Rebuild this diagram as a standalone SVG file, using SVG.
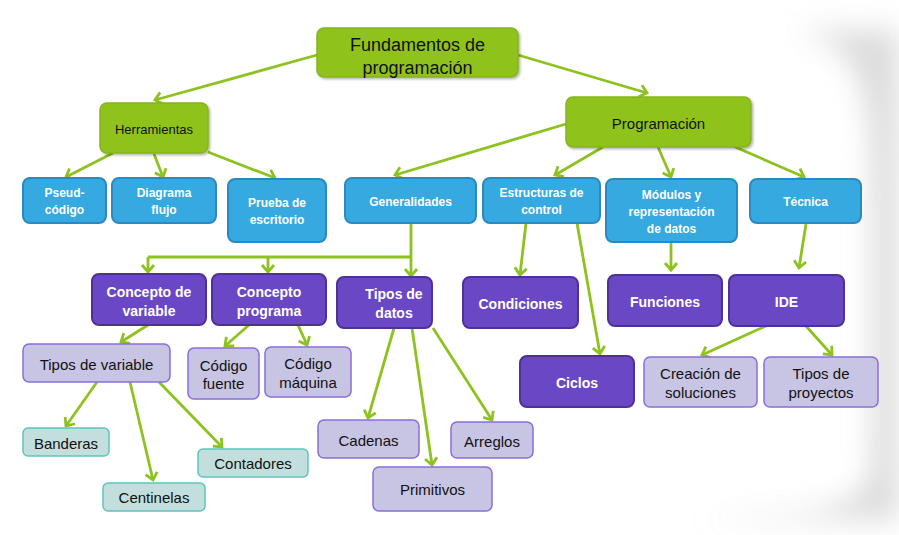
<svg xmlns="http://www.w3.org/2000/svg" width="899" height="535" viewBox="0 0 899 535">
<defs>
<filter id="blur" x="-50%" y="-50%" width="200%" height="200%"><feGaussianBlur stdDeviation="14"/></filter>
<filter id="sh" x="-10%" y="-10%" width="130%" height="140%"><feDropShadow dx="1.5" dy="1.5" stdDeviation="1.2" flood-color="#000" flood-opacity="0.3"/></filter>
<marker id="ar" markerUnits="userSpaceOnUse" markerWidth="20" markerHeight="20" viewBox="-10 -10 20 20" refX="0" refY="0" orient="auto">
<path d="M-7,-6 L0,0 L-7,6" fill="none" stroke="#8DC21F" stroke-width="2.8" stroke-linejoin="miter"/>
</marker>
<style>
text{font-family:"Liberation Sans",Arial,sans-serif;text-anchor:middle}
.g rect{fill:#8FC31F;stroke:#86B41E;stroke-width:1.5;filter:url(#sh)}
.g text{fill:#111}
.b rect{fill:#36A9E1;stroke:#2B88C0;stroke-width:2}
.b text{fill:#fff;font-weight:bold;font-size:12px}
.p rect{fill:#6A47C4;stroke:#4E3196;stroke-width:2}
.p text{fill:#fff;font-weight:bold;font-size:14px}
.l rect{fill:#C8C4E4;stroke:#8A6ED8;stroke-width:1.5}
.l text{fill:#111;font-size:15px}
.t rect{fill:#C3DFDD;stroke:#5CC6BC;stroke-width:1.5}
.t text{fill:#111;font-size:15px}
#connectors path{fill:none;stroke:#8DC21F;stroke-width:2.8}
#connectors .a{marker-end:url(#ar)}
</style>
</defs>
<rect width="899" height="535" fill="#fff"/>
<path d="M790 30 C860 40 872 90 872 200 L872 450 C872 505 840 516 700 518 L730 520 L899 520 L899 30 Z" fill="#d0d0d0" filter="url(#blur)" opacity="0.75"/>
<g id="connectors">
<path class="a" d="M317 55 L155 100"/>
<path class="a" d="M518 55 L647 93"/>
<path class="a" d="M113 153 L66 177"/>
<path class="a" d="M154 154 L163 177"/>
<path class="a" d="M208 152 L275 178"/>
<path class="a" d="M566 124 L395 175"/>
<path class="a" d="M603 147 L555 175"/>
<path class="a" d="M658 147 L671 177"/>
<path class="a" d="M733 146 L804 177"/>
<path d="M411 223 L411 257 M148 257 L411 257"/>
<path class="a" d="M148 257 L148 272"/>
<path class="a" d="M268 257 L268 272"/>
<path class="a" d="M411 257 L411 276"/>
<path class="a" d="M526 223 L520 275"/>
<path class="a" d="M577 223 L600 354"/>
<path class="a" d="M671 242 L671 270"/>
<path class="a" d="M806 224 L799 268"/>
<path class="a" d="M148 325 L121 342"/>
<path class="a" d="M249 325 L225 346"/>
<path class="a" d="M298 325 L307 345"/>
<path class="a" d="M97 382 L66 426"/>
<path class="a" d="M130 382 L153 480"/>
<path class="a" d="M159 382 L222 447"/>
<path class="a" d="M394 328 L368 418"/>
<path class="a" d="M412 328 L432 465"/>
<path class="a" d="M433 328 L492 420"/>
<path class="a" d="M768 325 L702 355"/>
<path class="a" d="M805 325 L832 355"/>
</g>
<g id="n-fundamentos" class="g"><rect x="317" y="28" width="201" height="49" rx="7"/><text x="417.5" y="51" font-size="18">Fundamentos de</text><text x="417.5" y="74" font-size="18">programación</text></g>
<g id="n-herramientas" class="g"><rect x="100" y="103" width="108" height="50" rx="7"/><text x="154" y="134" font-size="13">Herramientas</text></g>
<g id="n-programacion" class="g"><rect x="566" y="97" width="185" height="50" rx="7"/><text x="658.5" y="129" font-size="15">Programación</text></g>
<g id="n-pseud" class="b"><rect x="23" y="178" width="83" height="45" rx="7"/><text x="64.5" y="197">Pseud-</text><text x="64.5" y="214">código</text></g>
<g id="n-diagrama" class="b"><rect x="112" y="178" width="104" height="45" rx="7"/><text x="164" y="197">Diagrama</text><text x="164" y="214">flujo</text></g>
<g id="n-prueba" class="b"><rect x="228" y="179" width="98" height="63" rx="7"/><text x="277" y="207">Prueba de</text><text x="277" y="224">escritorio</text></g>
<g id="n-generalidades" class="b"><rect x="345" y="178" width="131" height="45" rx="7"/><text x="410.5" y="206">Generalidades</text></g>
<g id="n-estructuras" class="b"><rect x="483" y="178" width="117" height="45" rx="7"/><text x="541.5" y="197">Estructuras de</text><text x="541.5" y="214">control</text></g>
<g id="n-modulos" class="b"><rect x="606" y="179" width="131" height="63" rx="7"/><text x="671.5" y="199">Módulos y</text><text x="671.5" y="216">representación</text><text x="671.5" y="233">de datos</text></g>
<g id="n-tecnica" class="b"><rect x="750" y="179" width="111" height="44" rx="7"/><text x="805.5" y="206">Técnica</text></g>
<g id="n-concepto-variable" class="p"><rect x="92" y="274" width="114" height="51" rx="7"/><text x="149" y="297">Concepto de</text><text x="149" y="316">variable</text></g>
<g id="n-concepto-programa" class="p"><rect x="212" y="274" width="114" height="51" rx="7"/><text x="269" y="297">Concepto</text><text x="269" y="316">programa</text></g>
<g id="n-tipos-datos" class="p"><rect x="337" y="277" width="95" height="51" rx="7"/><text x="394" y="299">Tipos de</text><text x="394" y="318">datos</text></g>
<g id="n-condiciones" class="p"><rect x="463" y="277" width="115" height="51" rx="7"/><text x="520.5" y="309">Condiciones</text></g>
<g id="n-funciones" class="p"><rect x="608" y="275" width="114" height="51" rx="7"/><text x="665" y="307">Funciones</text></g>
<g id="n-ide" class="p"><rect x="729" y="275" width="115" height="51" rx="7"/><text x="786.5" y="307">IDE</text></g>
<g id="n-ciclos" class="p"><rect x="520" y="356" width="114" height="51" rx="7"/><text x="577" y="388">Ciclos</text></g>
<g id="n-tipos-variable" class="l"><rect x="23" y="344" width="147" height="38" rx="6"/><text x="96.5" y="370">Tipos de variable</text></g>
<g id="n-codigo-fuente" class="l"><rect x="188" y="348" width="71" height="51" rx="6"/><text x="223.5" y="371">Código</text><text x="223.5" y="389">fuente</text></g>
<g id="n-codigo-maquina" class="l"><rect x="265" y="347" width="86" height="50" rx="6"/><text x="308" y="369">Código</text><text x="308" y="388">máquina</text></g>
<g id="n-cadenas" class="l"><rect x="318" y="420" width="101" height="38" rx="6"/><text x="368.5" y="446">Cadenas</text></g>
<g id="n-primitivos" class="l"><rect x="373" y="467" width="119" height="44" rx="6"/><text x="432.5" y="495">Primitivos</text></g>
<g id="n-arreglos" class="l"><rect x="451" y="422" width="82" height="36" rx="6"/><text x="492" y="447">Arreglos</text></g>
<g id="n-creacion" class="l"><rect x="644" y="357" width="113" height="50" rx="6"/><text x="700.5" y="379">Creación de</text><text x="700.5" y="398">soluciones</text></g>
<g id="n-tipos-proyectos" class="l"><rect x="764" y="357" width="114" height="50" rx="6"/><text x="821" y="379">Tipos de</text><text x="821" y="398">proyectos</text></g>
<g id="n-banderas" class="t"><rect x="23" y="428" width="86" height="28" rx="5"/><text x="66" y="448.5">Banderas</text></g>
<g id="n-centinelas" class="t"><rect x="103" y="483" width="102" height="28" rx="5"/><text x="154" y="503">Centinelas</text></g>
<g id="n-contadores" class="t"><rect x="198" y="449" width="110" height="28" rx="5"/><text x="253" y="468.5">Contadores</text></g>
</svg>
